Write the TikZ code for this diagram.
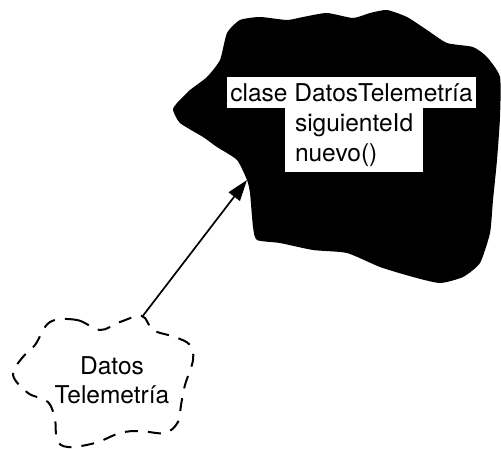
\documentclass[tikz,border=0pt]{standalone}
\usepackage{fontspec}
\setmainfont{TeX Gyre Heros}
\usetikzlibrary{arrows.meta}

\begin{document}
\begin{tikzpicture}[
  x=1pt, y=-1pt,
  clsbox/.style={rectangle, fill=white, inner sep=0pt, font=\fontsize{24.5}{30}\selectfont},
  cloudtxt/.style={align=center, font=\fontsize{24.5}{29}\selectfont},
  arr/.style={-{Triangle[length=21pt,width=14pt]}, line width=1.7pt}
]
\useasboundingbox (0,0) rectangle (501,448);

% black cloud
\fill[black] plot[smooth cycle, tension=0.35] coordinates {
  (220,60) (227,33) (240,20) (260,17) (287,20) (303,17) (327,13) (353,18)
  (370,13) (387,10) (407,17) (427,30) (447,43) (473,47) (487,57) (500,77)
  (500,117) (497,160) (493,200) (490,233) (480,263) (463,277) (440,283)
  (413,277) (380,267) (347,253) (313,250) (280,243) (257,240) (253,227)
  (250,193) (247,180) (237,160) (217,147) (203,137) (180,123) (173,110)
  (177,103) (190,90) (207,77)};

\node[clsbox, minimum width=249pt, minimum height=31pt] (cls) at (351.5,92.5) {clase DatosTelemetría};
\node[clsbox, minimum width=138pt, minimum height=64pt, text width=118pt, align=left] (ops) at (354,140) {siguienteId\\nuevo()};

% dashed cloud
\draw[line width=2pt, dash pattern=on 13pt off 10pt] plot[smooth cycle, tension=0.6] coordinates {
  (50,322) (77,320) (100,330) (120,322) (142,316) (153,330) (175,337)
  (190,345) (193,360) (185,385) (181,405) (178,422) (165,433) (140,431)
  (120,433) (95,443) (68,447) (57,440) (55,420) (48,402) (28,393)
  (13,375) (22,358) (35,345)};
\node[cloudtxt] (dt) at (112,380) {Datos\\Telemetría};

\coordinate (src) at (142,317);
\coordinate (tip) at (247,180);
\draw[arr] (src) -- (tip);
\end{tikzpicture}
\end{document}
